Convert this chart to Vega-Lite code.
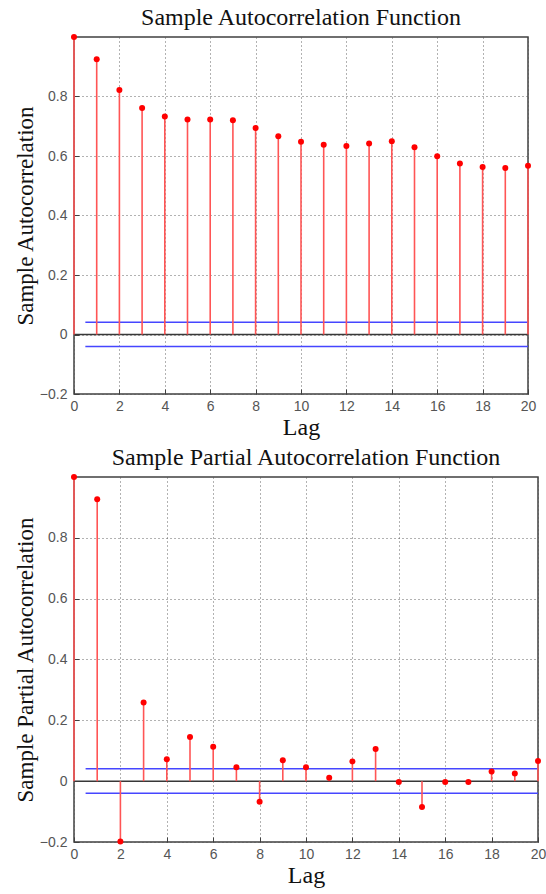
{
  "$schema": "https://vega.github.io/schema/vega-lite/v6.json",
  "background": "white",
  "padding": {"top": 5, "left": 13, "right": 0, "bottom": 0},
  "spacing": 5,
  "datasets": {
    "acf": [
      {"lag": 0, "r": 1.0, "base": 0}, {"lag": 1, "r": 0.925, "base": 0}, {"lag": 2, "r": 0.822, "base": 0}, {"lag": 3, "r": 0.761, "base": 0},
      {"lag": 4, "r": 0.733, "base": 0}, {"lag": 5, "r": 0.723, "base": 0}, {"lag": 6, "r": 0.723, "base": 0}, {"lag": 7, "r": 0.72, "base": 0},
      {"lag": 8, "r": 0.694, "base": 0}, {"lag": 9, "r": 0.666, "base": 0}, {"lag": 10, "r": 0.648, "base": 0}, {"lag": 11, "r": 0.638, "base": 0},
      {"lag": 12, "r": 0.634, "base": 0}, {"lag": 13, "r": 0.642, "base": 0}, {"lag": 14, "r": 0.65, "base": 0}, {"lag": 15, "r": 0.629, "base": 0},
      {"lag": 16, "r": 0.599, "base": 0}, {"lag": 17, "r": 0.575, "base": 0}, {"lag": 18, "r": 0.563, "base": 0}, {"lag": 19, "r": 0.56, "base": 0},
      {"lag": 20, "r": 0.567, "base": 0}
    ],
    "pacf": [
      {"lag": 0, "r": 1.0, "base": 0}, {"lag": 1, "r": 0.927, "base": 0}, {"lag": 2, "r": -0.198, "base": 0}, {"lag": 3, "r": 0.259, "base": 0},
      {"lag": 4, "r": 0.072, "base": 0}, {"lag": 5, "r": 0.145, "base": 0}, {"lag": 6, "r": 0.113, "base": 0}, {"lag": 7, "r": 0.046, "base": 0},
      {"lag": 8, "r": -0.068, "base": 0}, {"lag": 9, "r": 0.069, "base": 0}, {"lag": 10, "r": 0.046, "base": 0}, {"lag": 11, "r": 0.011, "base": 0},
      {"lag": 12, "r": 0.065, "base": 0}, {"lag": 13, "r": 0.106, "base": 0}, {"lag": 14, "r": -0.003, "base": 0}, {"lag": 15, "r": -0.085, "base": 0},
      {"lag": 16, "r": -0.003, "base": 0}, {"lag": 17, "r": -0.003, "base": 0}, {"lag": 18, "r": 0.032, "base": 0}, {"lag": 19, "r": 0.025, "base": 0},
      {"lag": 20, "r": 0.066, "base": 0}
    ],
    "bounds": [
      {"b": 0.041, "x0": 0.5, "x1": 20, "kind": "conf"},
      {"b": -0.04, "x0": 0.5, "x1": 20, "kind": "conf"},
      {"b": 0, "x0": 0, "x1": 20, "kind": "zero"}
    ]
  },
  "vconcat": [
    {
      "width": 454,
      "height": 357,
      "title": {"text": "Sample Autocorrelation Function", "offset": 4},
      "layer": [
        {
          "data": {"name": "bounds"},
          "mark": {"type": "rule", "strokeWidth": 1.5},
          "encoding": {
            "x": {"field": "x0", "type": "quantitative", "scale": {"domain": [0, 20], "nice": false, "zero": false},
                  "axis": {"title": "Lag", "values": [0,2,4,6,8,10,12,14,16,18,20]}},
            "x2": {"field": "x1"},
            "y": {"field": "b", "type": "quantitative", "scale": {"domain": [-0.2, 1.0], "nice": false},
                  "axis": {"title": "Sample Autocorrelation", "values": [-0.2,0,0.2,0.4,0.6,0.8], "labelExpr": "datum.value == 0 ? '0' : datum.label"}},
            "color": {"field": "kind", "type": "nominal", "scale": {"domain": ["conf", "zero"], "range": ["#4646ff", "#383838"]}, "legend": null}
          }
        },
        {
          "data": {"name": "acf"},
          "mark": {"type": "rule", "color": "#ff5555", "strokeWidth": 1.6},
          "encoding": {
            "x": {"field": "lag", "type": "quantitative"},
            "y": {"field": "base", "type": "quantitative"},
            "y2": {"field": "r"}
          }
        },
        {
          "data": {"name": "acf"},
          "mark": {"type": "point", "filled": true, "color": "#ff0000", "opacity": 1, "size": 36, "clip": false},
          "encoding": {
            "x": {"field": "lag", "type": "quantitative"},
            "y": {"field": "r", "type": "quantitative"}
          }
        }
      ]
    },
    {
      "width": 464,
      "height": 365,
      "title": {"text": "Sample Partial Autocorrelation Function", "offset": 4},
      "layer": [
        {
          "data": {"name": "bounds"},
          "mark": {"type": "rule", "strokeWidth": 1.5},
          "encoding": {
            "x": {"field": "x0", "type": "quantitative", "scale": {"domain": [0, 20], "nice": false, "zero": false},
                  "axis": {"title": "Lag", "values": [0,2,4,6,8,10,12,14,16,18,20]}},
            "x2": {"field": "x1"},
            "y": {"field": "b", "type": "quantitative", "scale": {"domain": [-0.2, 1.0], "nice": false},
                  "axis": {"title": "Sample Partial Autocorrelation", "values": [-0.2,0,0.2,0.4,0.6,0.8], "labelExpr": "datum.value == 0 ? '0' : datum.label"}},
            "color": {"field": "kind", "type": "nominal", "scale": {"domain": ["conf", "zero"], "range": ["#4646ff", "#383838"]}, "legend": null}
          }
        },
        {
          "data": {"name": "pacf"},
          "mark": {"type": "rule", "color": "#ff5555", "strokeWidth": 1.6},
          "encoding": {
            "x": {"field": "lag", "type": "quantitative"},
            "y": {"field": "base", "type": "quantitative"},
            "y2": {"field": "r"}
          }
        },
        {
          "data": {"name": "pacf"},
          "mark": {"type": "point", "filled": true, "color": "#ff0000", "opacity": 1, "size": 36, "clip": false},
          "encoding": {
            "x": {"field": "lag", "type": "quantitative"},
            "y": {"field": "r", "type": "quantitative"}
          }
        }
      ]
    }
  ],
  "config": {
    "view": {"stroke": "#404040", "strokeWidth": 1.5},
    "title": {"font": "Liberation Serif", "fontSize": 24, "fontWeight": "normal", "color": "#111111", "anchor": "middle"},
    "axis": {
      "domain": false,
      "grid": true,
      "gridColor": "#555555",
      "gridDash": [1, 3],
      "gridWidth": 1,
      "gridOpacity": 0.9,
      "ticks": true,
      "tickSize": -5,
      "tickColor": "#404040",
      "tickWidth": 1,
      "labelFont": "Liberation Sans",
      "labelFontSize": 14,
      "labelColor": "#555555",
      "titleFont": "Liberation Serif",
      "titleFontWeight": "normal",
      "titleColor": "#111111"
    },
    "axisX": {"labelPadding": 10, "titleFontSize": 24, "titlePadding": 2, "labelFlush": false},
    "axisY": {"labelPadding": 12, "titleFontSize": 23, "titlePadding": 2, "labelFlush": false}
  }
}
